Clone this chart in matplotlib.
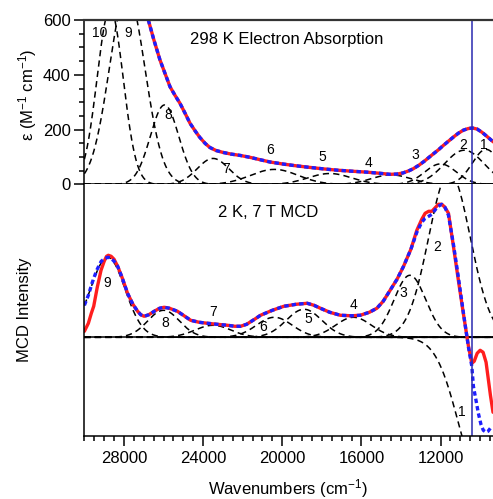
import numpy as np
import matplotlib
matplotlib.use('Agg')
import matplotlib.pyplot as plt
from matplotlib.ticker import MultipleLocator

plt.rcParams['font.family'] = ['Liberation Sans', 'DejaVu Sans']
plt.rcParams['mathtext.fontset'] = 'custom'
plt.rcParams['mathtext.rm'] = 'Liberation Sans'
plt.rcParams['mathtext.it'] = 'Liberation Sans:italic'
plt.rcParams['lines.scale_dashes'] = False

# ---- absorption (298 K) ----
abs_wn = [26770, 26500, 26180, 25900, 25670, 25420, 25170, 24900, 24660, 24400,
          24170, 23900, 23660, 23350, 23000, 22600, 22130, 21630, 21100, 20620,
          20000, 19400, 18700, 17940, 17200, 16400, 15730, 15100, 14560, 14200,
          13900, 13600, 13390, 13100, 12800, 12600, 12360, 12100, 11850, 11600,
          11350, 11100, 10850, 10600, 10390, 10150, 9900, 9650, 9330]
abs_eps = [600, 530, 454, 400, 356, 325, 296, 258, 223, 195,
           172, 150, 135, 124, 117, 111, 106, 99, 90, 82,
           75, 69, 63, 57, 52, 48, 45, 41, 37, 38,
           42, 50, 57, 70, 86, 98, 112, 127, 143, 158,
           173, 187, 198, 204, 206, 202, 190, 175, 155]

# gaussian components: label, centre (cm-1), height, width (sigma)
abs_bands = ['1', '2', '3', '4', '5', '6', '7', '8', '9', '10']
abs_center = [9700, 10800, 12000, 14500, 17600, 20400, 23500, 25950, 27840, 28700]
abs_height = [128, 125, 75, 35, 40, 55, 95, 290, 700, 640]
abs_sigma = [700, 1000, 800, 1000, 1100, 1200, 800, 720, 900, 660]
abs_lab_wn = [9800, 10860, 13280, 15660, 17990, 20610, 22840, 25770, 27790, 29210]
abs_lab_y = [145, 145, 106, 77, 99, 124, 58, 252, 553, 553]

# ---- MCD (2 K, 7 T), arbitrary units ----
mcd_wn = [30000, 29800, 29650, 29530, 29350, 29160, 29000, 28880, 28790, 28650,
          28500, 28320, 28100, 27820, 27550, 27310, 27150, 26980, 26750, 26470,
          26200, 25970, 25700, 25500, 25300, 25000, 24630, 24200, 23780, 23300,
          22770, 22400, 22110, 21800, 21400, 21100, 20500, 19920, 19300, 18740,
          18400, 18070, 17600, 17060, 16500, 16060, 15600, 15220, 14900, 14550,
          14200, 13870, 13500, 13200, 12950, 12780, 12600, 12440, 12250, 12110,
          11940, 11780, 11600, 11350, 11100, 10850, 10590, 10420, 10300, 10150,
          10000, 9850, 9700, 9600, 9480, 9350]
mcd_val = [0.06, 0.14, 0.24, 0.31, 0.50, 0.67, 0.76, 0.81, 0.82, 0.81,
           0.78, 0.71, 0.60, 0.44, 0.33, 0.26, 0.225, 0.21, 0.225, 0.26,
           0.29, 0.30, 0.29, 0.275, 0.26, 0.22, 0.17, 0.15, 0.14, 0.13,
           0.12, 0.11, 0.11, 0.13, 0.18, 0.22, 0.27, 0.31, 0.33, 0.34,
           0.32, 0.29, 0.25, 0.22, 0.215, 0.22, 0.25, 0.29, 0.36, 0.47,
           0.58, 0.71, 0.88, 1.07, 1.18, 1.24, 1.26, 1.26, 1.30, 1.33,
           1.33, 1.30, 1.24, 0.91, 0.57, 0.24, -0.09, -0.26, -0.24, -0.16,
           -0.13, -0.15, -0.25, -0.40, -0.58, -0.75]

fit_wn = [30000, 29800, 29600, 29380, 29150, 28960, 28800, 28650, 28500, 28320,
          28100, 27820, 27550, 27310, 27150, 26980, 26750, 26470, 26200, 25970,
          25700, 25500, 25300, 25000, 24630, 24200, 23780, 23300, 22770, 22400,
          22110, 21800, 21400, 21100, 20500, 19920, 19300, 18740, 18400, 18070,
          17600, 17060, 16500, 16060, 15600, 15220, 14900, 14550, 14200, 13870,
          13500, 13200, 12950, 12780, 12600, 12440, 12250, 12110, 11940, 11780,
          11600, 11350, 11100, 10850, 10590, 10420, 10340, 10200, 10090, 9960,
          9840, 9700, 9600, 9410]
fit_val = [0.32, 0.42, 0.55, 0.67, 0.76, 0.79, 0.80, 0.79, 0.76, 0.71,
           0.60, 0.44, 0.33, 0.26, 0.225, 0.21, 0.225, 0.26, 0.29, 0.30,
           0.29, 0.275, 0.26, 0.22, 0.17, 0.15, 0.14, 0.13, 0.12, 0.11,
           0.11, 0.13, 0.18, 0.22, 0.27, 0.31, 0.33, 0.34, 0.32, 0.29,
           0.25, 0.22, 0.215, 0.22, 0.25, 0.29, 0.36, 0.47, 0.58, 0.71,
           0.88, 1.05, 1.15, 1.19, 1.21, 1.23, 1.28, 1.31, 1.33, 1.30,
           1.22, 0.93, 0.60, 0.25, -0.10, -0.29, -0.49, -0.64, -0.76, -0.87,
           -0.93, -0.95, -0.94, -0.89]

mcd_bands = ['1', '2', '3', '4', '5', '6', '7', '8', '9']
mcd_center = [9900, 11550, 13550, 16400, 18900, 20400, 23500, 26000, 28820]
mcd_height = [-1.45, 1.65, 0.62, 0.20, 0.28, 0.20, 0.12, 0.27, 0.80]
mcd_sigma = [1170, 1050, 800, 900, 900, 900, 900, 800, 870]
mcd_lab_wn = [10910, 12170, 13890, 16420, 18700, 20970, 23500, 25930, 28860]
mcd_lab_y = [-0.75, 0.90, 0.44, 0.32, 0.18, 0.10, 0.25, 0.14, 0.54]

laser_wn = 10420

x = np.linspace(30000, 9300, 800)

def gauss(c, h, s):
    return h * np.exp(-(x - c) ** 2 / (2 * s ** 2))

fig = plt.figure(figsize=(4.93, 4.99), dpi=100)
ax0 = fig.add_axes([0.1712, 0.6303, 0.8288, 0.3297])
ax1 = fig.add_axes([0.1712, 0.1263, 0.8288, 0.5040])

red = '#ff1e1e'
blue = '#1e1eff'
dash_k = (0, (4.5, 3.0))
dash_b = (0, (3.2, 2.2))

# top: absorption
for c, h, s in zip(abs_center, abs_height, abs_sigma):
    ax0.plot(x, gauss(c, h, s), color='k', lw=1.1, ls=dash_k)
ax0.plot(abs_wn, abs_eps, color=red, lw=2.4, solid_capstyle='round', solid_joinstyle='round')
ax0.plot(abs_wn, abs_eps, color=blue, lw=2.4, ls=dash_b)
for t, wx, wy in zip(abs_bands, abs_lab_wn, abs_lab_y):
    ax0.text(wx, wy, t, fontsize=10, ha='center', va='center')
ax0.text(0.258, 0.88, '298 K Electron Absorption', transform=ax0.transAxes,
         fontsize=12, va='center')

ax0.set_xlim(30000, 9350)
ax0.set_ylim(0, 600)
ax0.yaxis.set_major_locator(MultipleLocator(200))
ax0.yaxis.set_minor_locator(MultipleLocator(50))
ax0.tick_params(axis='y', which='major', length=7, width=1.1, labelsize=12, pad=3)
ax0.tick_params(axis='y', which='minor', length=3.5, width=1.1)
ax0.tick_params(axis='x', which='both', bottom=False, labelbottom=False)
ax0.spines['right'].set_visible(False)
ax0.spines['top'].set_linewidth(1.6)
ax0.spines['top'].set_color('#333333')
ax0.spines['left'].set_linewidth(1.1)
ax0.spines['bottom'].set_linewidth(1.1)
ax0.axvline(laser_wn, color='#2a2ab0', lw=1.1)

# bottom: MCD
for c, h, s in zip(mcd_center, mcd_height, mcd_sigma):
    ax1.plot(x, gauss(c, h, s), color='k', lw=1.1, ls=dash_k)
ax1.axhline(0, color='k', lw=1.1)
ax1.plot(mcd_wn, mcd_val, color=red, lw=2.4, solid_capstyle='round', solid_joinstyle='round')
ax1.plot(fit_wn, fit_val, color=blue, lw=2.4, ls=dash_b)
for t, wx, wy in zip(mcd_bands, mcd_lab_wn, mcd_lab_y):
    ax1.text(wx, wy, t, fontsize=10, ha='center', va='center')
ax1.text(0.327, 0.887, '2 K, 7 T MCD', transform=ax1.transAxes,
         fontsize=12, va='center')
ax1.axvline(laser_wn, color='#2a2ab0', lw=1.1)

ax1.set_xlim(30000, 9350)
ax1.set_ylim(-0.987, 1.528)
ax1.set_yticks([])
ax1.xaxis.set_major_locator(MultipleLocator(4000))
ax1.xaxis.set_minor_locator(MultipleLocator(500))
ax1.tick_params(axis='x', which='major', length=7, width=1.1, labelsize=12, pad=4)
ax1.tick_params(axis='x', which='minor', length=3.5, width=1.1)
ax1.spines['right'].set_visible(False)
ax1.spines['top'].set_visible(False)
ax1.spines['left'].set_linewidth(1.1)
ax1.spines['bottom'].set_linewidth(1.1)

fig.text(28 / 493, 1 - 95 / 499, r'ε (M$^{-1}$ cm$^{-1}$)', rotation=90,
         fontsize=12, ha='center', va='center')
fig.text(25 / 493, 1 - 310 / 499, 'MCD Intensity', rotation=90,
         fontsize=12, ha='center', va='center')
fig.text(288 / 493, 1 - 489 / 499, r'Wavenumbers (cm$^{-1}$)',
         fontsize=12, ha='center', va='center')

fig.savefig('out.png', dpi=100)
